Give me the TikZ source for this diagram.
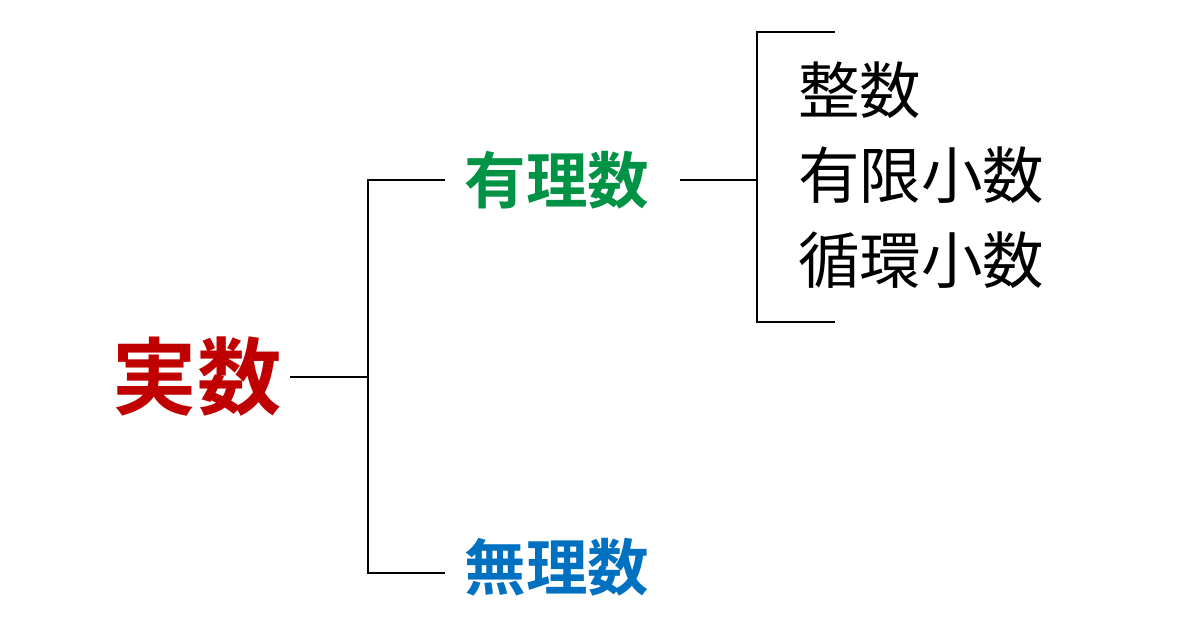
\documentclass[tikz,border=0pt]{standalone}
\usepackage{fontspec}
\newfontfamily\cjk{Noto Sans CJK JP}
\newfontfamily\cjkbold{Noto Sans CJK JP Bold}
\usetikzlibrary{positioning}
\definecolor{realred}{RGB}{192,0,0}
\definecolor{ratgreen}{RGB}{0,146,69}
\definecolor{irrblue}{RGB}{0,112,192}
\begin{document}
\begin{tikzpicture}[x=0.02cm,y=-0.02cm,line width=1.4pt,
		big/.style={font=\cjkbold\fontsize{48}{48}\selectfont,inner sep=0pt},
		mid/.style={font=\cjkbold\fontsize{35}{35}\selectfont,inner sep=0pt},
		item/.style={font=\cjk\fontsize{35}{35}\selectfont,inner sep=0pt,anchor=west}]
		\useasboundingbox (0,0) rectangle (1200,630);
		
		\node[big,text=realred]   (real)  at (197,377) {実数};
		\node[mid,text=ratgreen]  (rat)   at (557,180) {有理数};
		\node[mid,text=irrblue]   (irr)   at (557,567) {無理数};
		\node[item]               (int)   at (797,90)  {整数};
		\node[item]               (fin)   at (797,175) {有限小数};
		\node[item]               (rec)   at (797,260) {循環小数};
		
		\coordinate (rootend) at (290,377);
		\coordinate (split)   at (368,377);
		\coordinate (ratin)   at (445,180);
		\coordinate (irrin)   at (445,573);
		\coordinate (ratout)  at (680,180);
		\coordinate (brk)     at (757,180);
		\coordinate (brktop)  at (835,32);
		\coordinate (brkbot)  at (835,322);
		
		\draw (rootend) -- (split);
		\draw (ratin) -| (split |- irrin) -- (irrin);
		\draw (ratout) -- (brk);
		\draw (brktop) -| (brk) |- (brkbot);
\end{tikzpicture}
\end{document}
